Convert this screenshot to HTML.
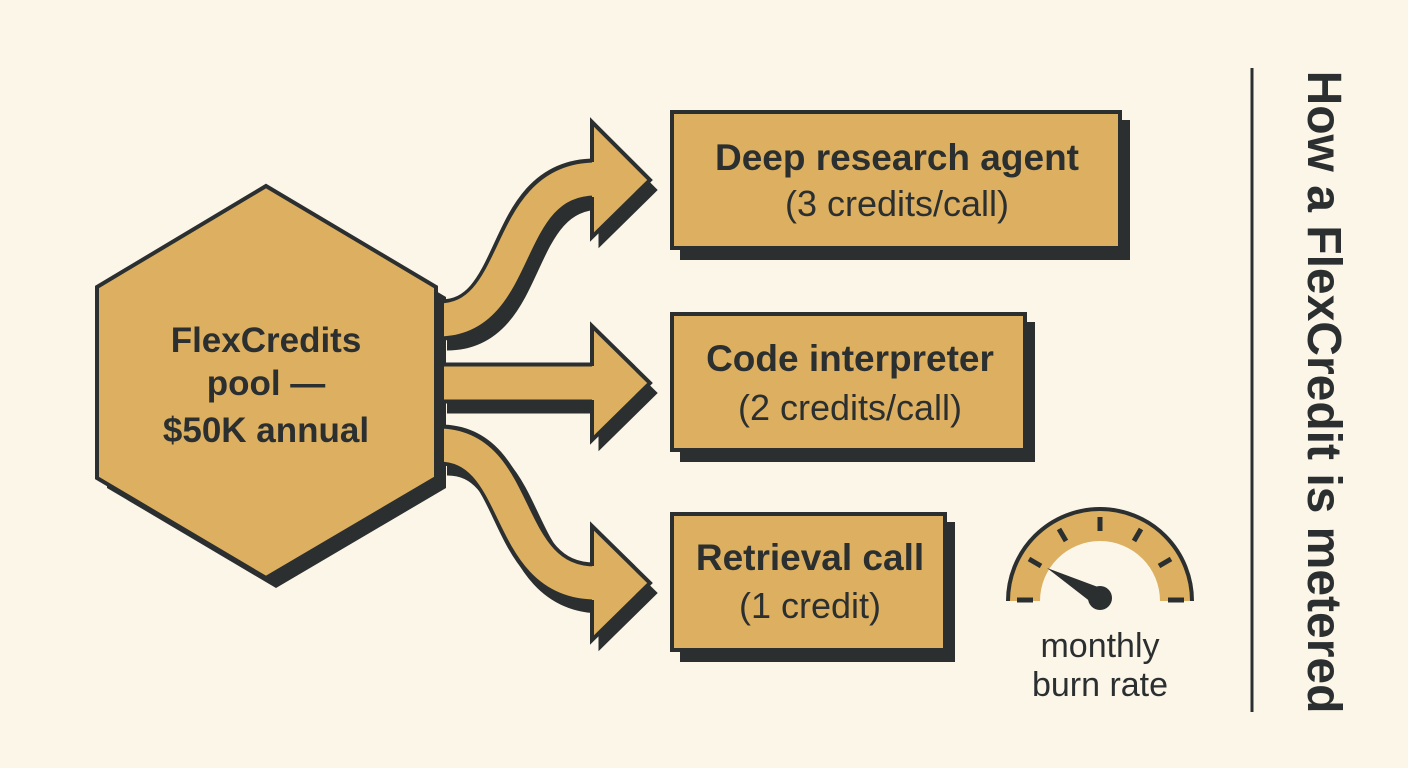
<!DOCTYPE html>
<html><head><style>
body{margin:0;background:#fbf6e8;}
svg{display:block}
text{font-family:"Liberation Sans",sans-serif;fill:#2b2f30}
</style></head><body>
<svg width="1408" height="768" viewBox="0 0 1408 768">
<rect width="1408" height="768" fill="#fbf6e8"/>
<defs>
<g id="arrows">
<path d="M440,320 C525,320 500,179 595,179" fill="none" stroke-width="41"/>
<path d="M440,383 L595,383" fill="none" stroke-width="41"/>
<path d="M440,445 C525,445 500,583 595,583" fill="none" stroke-width="41"/>
</g>
</defs>
<polygon points="276,196 446,297 446,488 276,588 107,488 107,297" fill="#2b2f30"/>
<polygon points="266,186 436,287 436,478 266,578 97,478 97,287" fill="#dcb060" stroke="#2b2f30" stroke-width="4"/>
<g transform="translate(7,10)" stroke="#2b2f30">
<use href="#arrows"/>
<polygon points="592,122 650,180 592,237" fill="#2b2f30"/>
<polygon points="592,326 650,383 592,440" fill="#2b2f30"/>
<polygon points="592,526 650,583 592,640" fill="#2b2f30"/>
</g>
<g stroke="#2b2f30"><use href="#arrows"/></g>
<g stroke="#dcb060">
<path d="M438,320 C525,320 500,179 596,179" fill="none" stroke-width="33"/>
<path d="M438,383 L596,383" fill="none" stroke-width="33"/>
<path d="M438,445 C525,445 500,583 596,583" fill="none" stroke-width="33"/>
</g>
<g fill="#dcb060" stroke="#2b2f30" stroke-width="4" stroke-linejoin="miter">
<polyline points="592,162 592,122 650,180 592,237 592,197"/>
<polyline points="592,366 592,326 650,383 592,440 592,400"/>
<polyline points="592,566 592,526 650,583 592,640 592,600"/>
</g>
<rect x="436" y="296" width="8" height="180" fill="#2b2f30"/>
<rect x="680" y="120" width="450" height="140" fill="#2b2f30"/>
<rect x="672" y="112" width="448" height="136" fill="#dcb060" stroke="#2b2f30" stroke-width="4"/>
<rect x="680" y="322" width="355" height="140" fill="#2b2f30"/>
<rect x="672" y="314" width="353" height="136" fill="#dcb060" stroke="#2b2f30" stroke-width="4"/>
<rect x="680" y="522" width="275" height="140" fill="#2b2f30"/>
<rect x="672" y="514" width="273" height="136" fill="#dcb060" stroke="#2b2f30" stroke-width="4"/>
<g font-size="35" font-weight="bold" text-anchor="middle">
<text x="266" y="352">FlexCredits</text>
<text x="266" y="395">pool —</text>
<text x="266" y="442">$50K annual</text>
</g>
<g font-size="37" font-weight="bold" text-anchor="middle">
<text x="897" y="170">Deep research agent</text>
<text x="850" y="371">Code interpreter</text>
<text x="810" y="570">Retrieval call</text>
</g>
<g font-size="36" text-anchor="middle">
<text x="897" y="216">(3 credits/call)</text>
<text x="850" y="420">(2 credits/call)</text>
<text x="810" y="618">(1 credit)</text>
</g>
<g font-size="34" text-anchor="middle">
<text x="1100" y="657">monthly</text>
<text x="1100" y="696">burn rate</text>
</g>
<path d="M1008,601 A92,92 0 0 1 1192,601 L1160,601 A60,60 0 0 0 1040,601 Z" fill="#dcb060"/>
<path d="M1008,601 A92,92 0 0 1 1192,601" fill="none" stroke="#2b2f30" stroke-width="4"/>
<g stroke="#2b2f30" stroke-width="5">
<line x1="1017" y1="600" x2="1033" y2="600"/>
<line x1="1168" y1="600" x2="1184" y2="600"/>
<line x1="1029" y1="559" x2="1041" y2="566"/>
<line x1="1059" y1="529" x2="1066" y2="541"/>
<line x1="1100" y1="517" x2="1100" y2="531"/>
<line x1="1141" y1="529" x2="1134" y2="541"/>
<line x1="1171" y1="559" x2="1159" y2="566"/>
</g>
<polygon points="1047,568 1106,590 1096,606" fill="#2b2f30"/>
<circle cx="1100" cy="598" r="12" fill="#2b2f30"/>
<line x1="1252" y1="68" x2="1252" y2="712" stroke="#2b2f30" stroke-width="3"/>
<text transform="translate(1308,392) rotate(90)" font-size="48" font-weight="bold" text-anchor="middle">How a FlexCredit is metered</text>
</svg>
</body></html>
